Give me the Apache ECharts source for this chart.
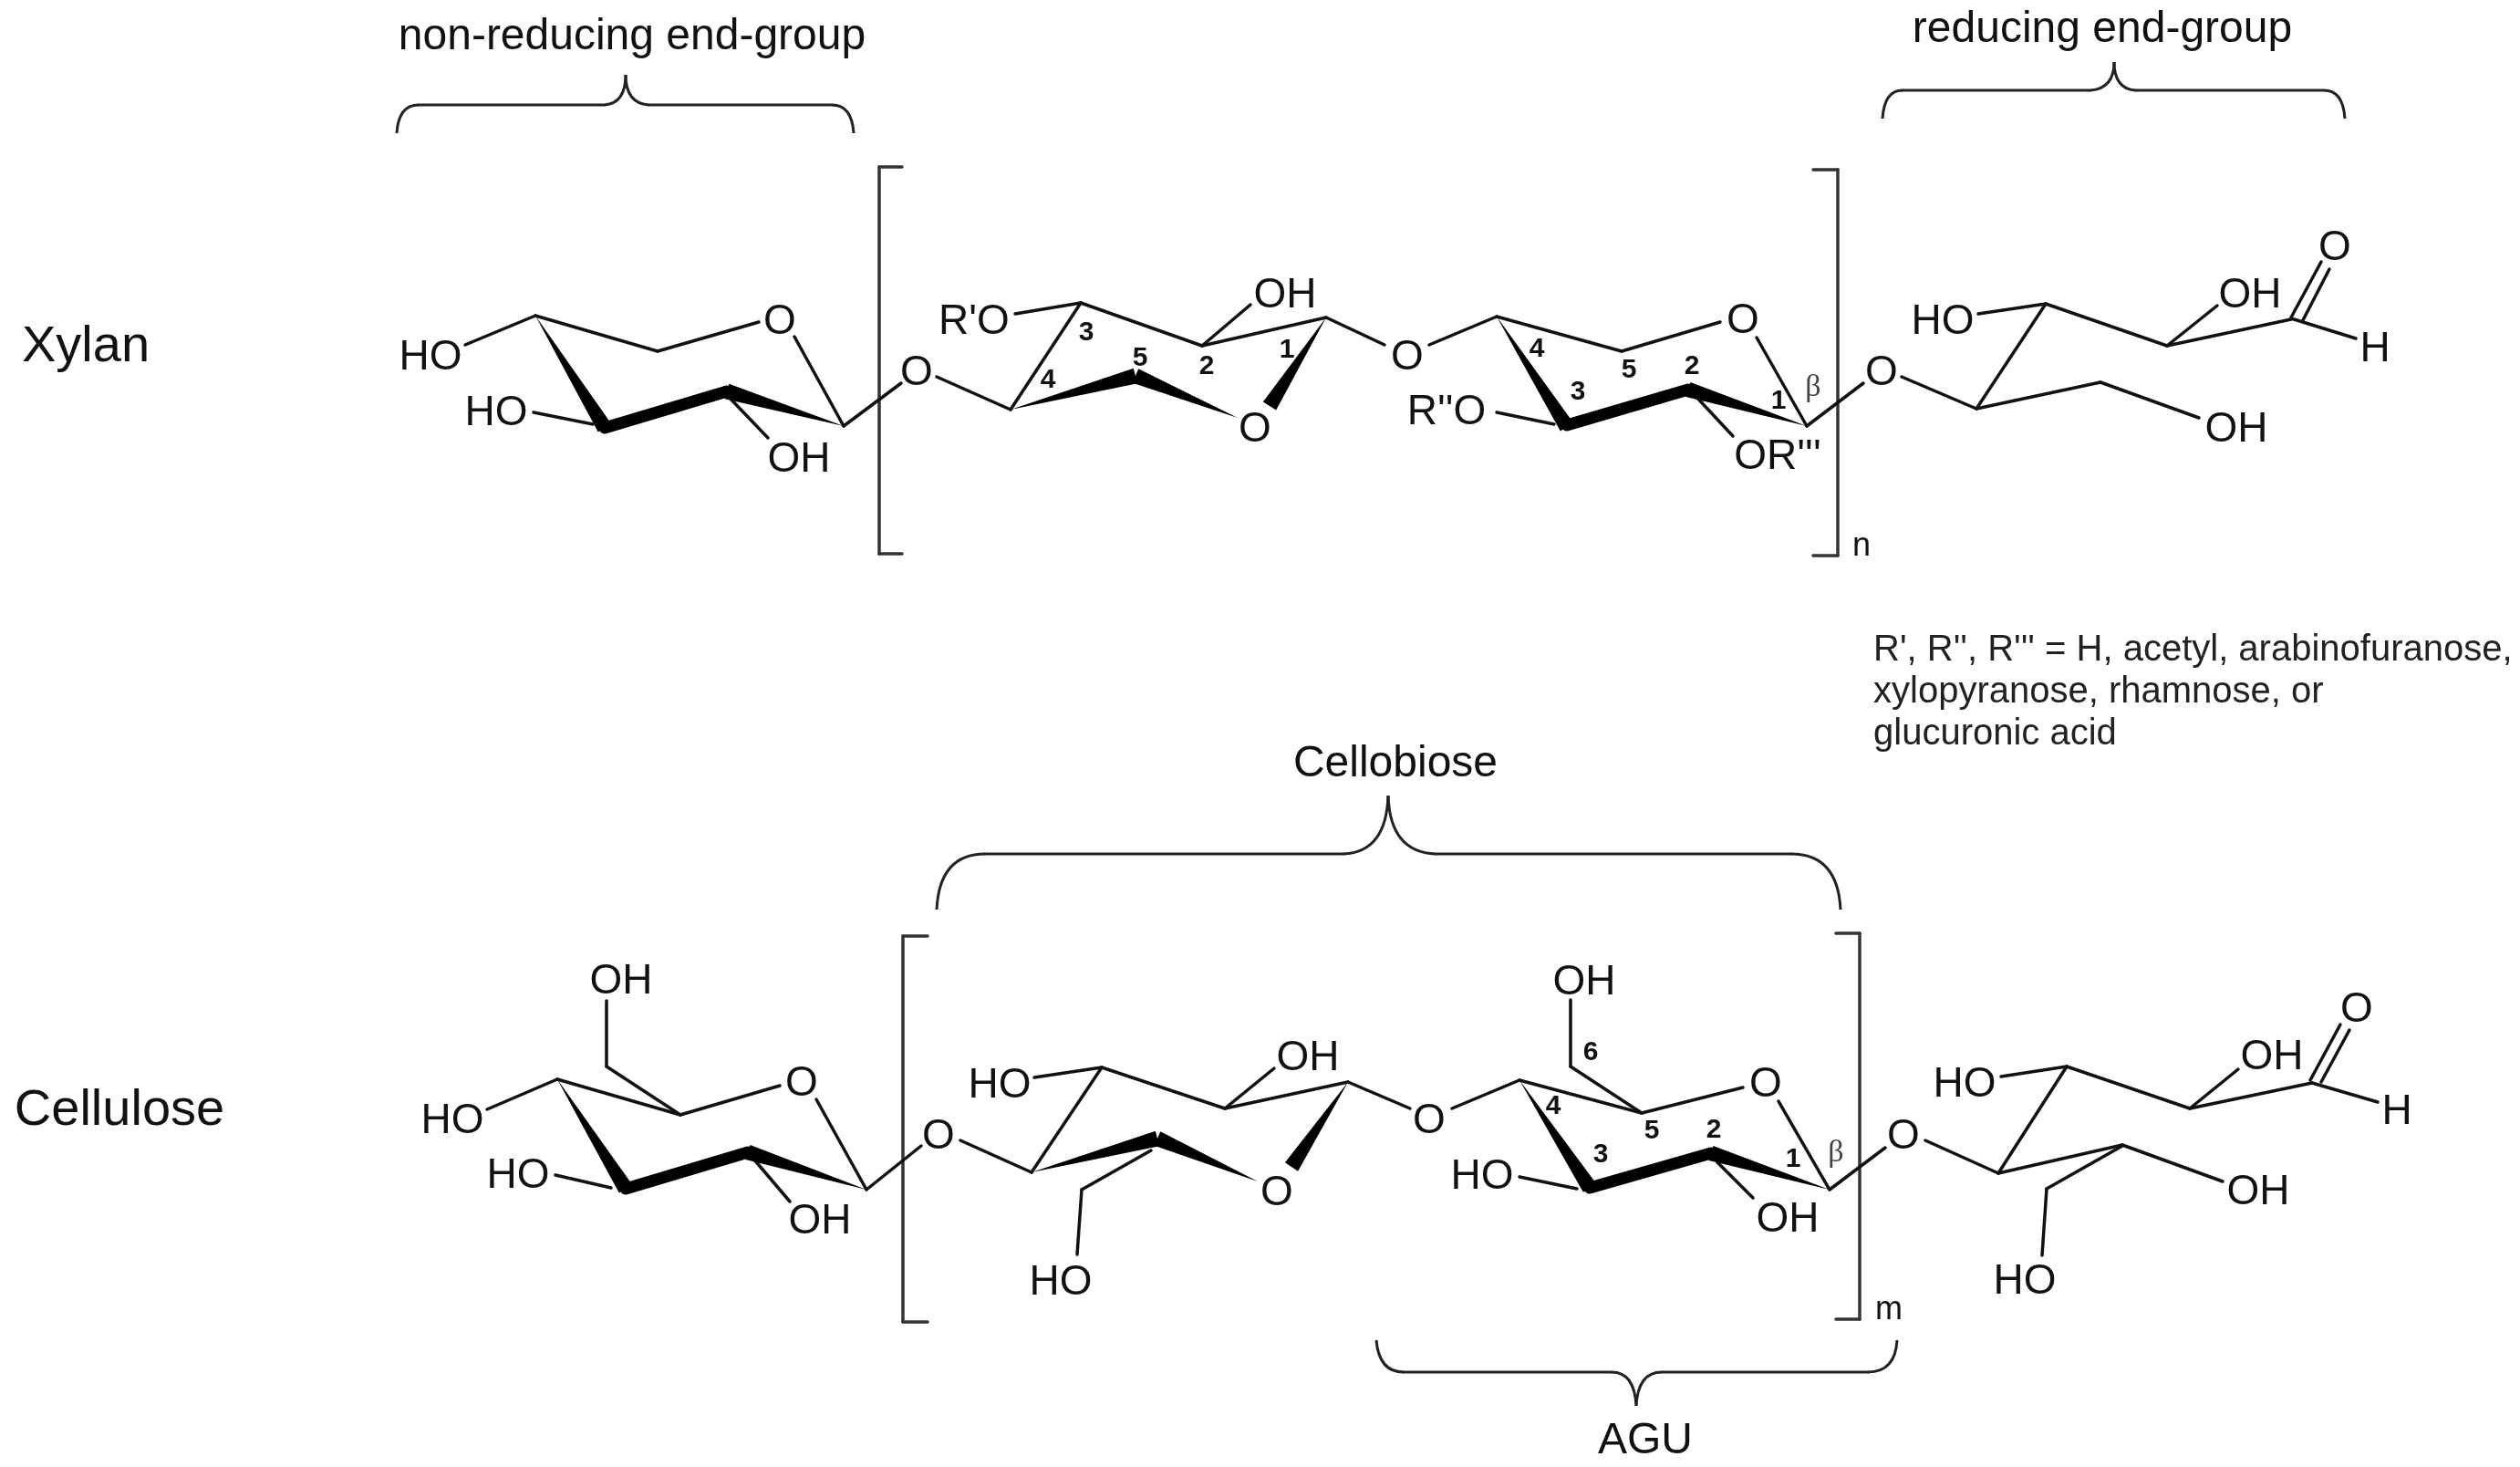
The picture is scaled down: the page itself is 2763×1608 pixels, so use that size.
<!DOCTYPE html>
<html>
<head>
<meta charset="utf-8">
<title>Xylan and cellulose</title>
<script src="https://cdn.jsdelivr.net/npm/echarts@6/dist/echarts.min.js"></script>
<style>
  html, body { margin: 0; padding: 0; background: #fff; }
  #container { width: 2763px; height: 1608px; }
</style>
</head>
<body>
<div id="container"></div>
<script>
// thin bonds: x1, y1, x2, y2
const xylanBonds = [
  [587, 346, 721, 385], [721, 385, 832, 353], [871, 369, 925, 467], [510, 378, 587, 346],
  [585, 452, 650, 465], [797, 433, 842, 480], [925, 467, 988, 420], [1027, 413, 1108, 449],
  [1108, 449, 1185, 332], [1113, 344, 1185, 332], [1185, 332, 1318, 379], [1371, 334, 1318, 379],
  [1318, 379, 1454, 348], [1454, 348, 1518, 378], [1567, 378, 1641, 347], [1641, 347, 1778, 385],
  [1778, 385, 1886, 353], [1926, 370, 1981, 467], [1641, 452, 1704, 465], [1858, 433, 1900, 478],
  [1981, 467, 2043, 420], [2085, 413, 2167, 448], [2167, 448, 2243, 333], [2169, 344, 2243, 333],
  [2243, 333, 2376, 379], [2431, 335, 2376, 379], [2376, 379, 2512, 350], [2512, 348, 2545, 287],
  [2525, 351, 2554, 295], [2512, 349, 2583, 371], [2167, 448, 2303, 419], [2303, 419, 2411, 458]
];
const celluloseBonds = [
  [665, 1097, 665, 1169], [665, 1169, 746, 1222], [611, 1183, 746, 1222], [746, 1222, 855, 1190],
  [895, 1205, 950, 1304], [534, 1216, 611, 1183], [609, 1288, 670, 1302], [826, 1270, 866, 1317],
  [950, 1304, 1010, 1256], [1053, 1250, 1131, 1285], [1131, 1285, 1208, 1170], [1134, 1181, 1208, 1170],
  [1208, 1170, 1343, 1215], [1397, 1171, 1343, 1215], [1343, 1215, 1478, 1186], [1262, 1261, 1186, 1304],
  [1186, 1304, 1181, 1375], [1478, 1186, 1546, 1215], [1592, 1215, 1666, 1184], [1666, 1184, 1800, 1220],
  [1800, 1220, 1911, 1192], [1950, 1207, 2006, 1304], [1800, 1220, 1722, 1169], [1722, 1169, 1722, 1096],
  [1666, 1290, 1729, 1303], [1883, 1274, 1922, 1313], [2006, 1304, 2067, 1258], [2111, 1250, 2191, 1286],
  [2191, 1286, 2266, 1169], [2194, 1180, 2266, 1169], [2266, 1169, 2401, 1215], [2454, 1172, 2401, 1215],
  [2401, 1215, 2535, 1187], [2533, 1184, 2566, 1123], [2545, 1186, 2576, 1129], [2535, 1187, 2607, 1208],
  [2191, 1286, 2327, 1255], [2327, 1255, 2437, 1295], [2327, 1256, 2244, 1303], [2244, 1303, 2239, 1376]
];
// bold ring edges
const thickBonds = [
  [663, 469, 797, 429], [1718, 466, 1851, 427], [686, 1303, 820, 1263], [1743, 1302, 1876, 1264]
];
// wedges: tip x, tip y, wide end x, wide end y
const wedges = [
  [587, 346, 663, 469], [925, 467, 797, 429], [1108, 449, 1245, 412], [1357, 458, 1245, 412],
  [1454, 348, 1392, 445], [1641, 347, 1718, 468], [1981, 467, 1851, 427],
  [611, 1183, 686, 1303], [950, 1304, 820, 1263], [1131, 1285, 1269, 1248], [1379, 1295, 1269, 1248],
  [1478, 1186, 1416, 1279], [1666, 1184, 1743, 1302], [2006, 1304, 1876, 1264]
];
const brackets = [
  [989, 183, 964, 183], [964, 183, 964, 607], [964, 607, 989, 607],
  [1988, 186, 2015, 186], [2015, 186, 2015, 609], [2015, 609, 1988, 609],
  [1017, 1026, 990, 1026], [990, 1026, 990, 1449], [990, 1449, 1017, 1449],
  [2013, 1023, 2039, 1023], [2039, 1023, 2039, 1446], [2039, 1446, 2013, 1446]
];
// brace straight runs and curves (x1, y1, cx, cy, x2, y2)
const braceRuns = [
  [459, 115, 663, 115], [711, 115, 912, 115], [2086, 99, 2292, 99], [2341, 99, 2548, 99],
  [1080, 936, 1473, 936], [1574, 936, 1964, 936], [1539, 1504, 1767, 1504], [1822, 1504, 2048, 1504]
];
const braceCurves = [
  [435, 146, 437, 115, 459, 115], [663, 115, 686, 113, 686, 82], [686, 82, 686, 113, 711, 115], [912, 115, 934, 115, 936, 146],
  [2064, 130, 2066, 99, 2086, 99], [2292, 99, 2318, 97, 2318, 68], [2318, 68, 2318, 97, 2341, 99], [2548, 99, 2569, 99, 2571, 130],
  [1027, 997, 1030, 936, 1080, 936], [1473, 936, 1520, 934, 1522, 872], [1522, 872, 1524, 934, 1574, 936], [1964, 936, 2015, 936, 2018, 997],
  [1509, 1469, 1512, 1504, 1539, 1504], [1767, 1504, 1792, 1504, 1794, 1541], [1794, 1541, 1796, 1504, 1822, 1504], [2048, 1504, 2078, 1504, 2080, 1469]
];
// text: x, y, string
const atomLabels = [
  [472, 388, 'HO'], [544, 449, 'HO'], [876, 500, 'OH'], [855, 349, 'O'], [1005, 405, 'O'],
  [1068, 349, "R'O"], [1409, 320, 'OH'], [1376, 467, 'O'], [1543, 388, 'O'], [1911, 348, 'O'],
  [1586, 448, "R''O"], [1949, 497, "OR'''"], [2063, 405, 'O'], [2130, 349, 'HO'], [2467, 320, 'OH'],
  [2560, 268, 'O'], [2604, 379, 'H'], [2452, 467, 'OH'],
  [681, 1072, 'OH'], [496, 1225, 'HO'], [568, 1285, 'HO'], [879, 1184, 'O'], [899, 1335, 'OH'],
  [1029, 1242, 'O'], [1096, 1186, 'HO'], [1434, 1156, 'OH'], [1400, 1304, 'O'], [1163, 1402, 'HO'],
  [1567, 1225, 'O'], [1936, 1185, 'O'], [1737, 1073, 'OH'], [1625, 1286, 'HO'], [1960, 1333, 'OH'],
  [2087, 1242, 'O'], [2154, 1185, 'HO'], [2491, 1155, 'OH'], [2584, 1103, 'O'], [2628, 1215, 'H'],
  [2476, 1303, 'OH'], [2220, 1401, 'HO']
];
const carbonNumbers = [
  [1191, 363, '3'], [1250, 391, '5'], [1323, 400, '2'], [1411, 382, '1'], [1149, 415, '4'],
  [1685, 381, '4'], [1786, 404, '5'], [1855, 400, '2'], [1730, 428, '3'], [1950, 438, '1'],
  [1744, 1152, '6'], [1703, 1211, '4'], [1811, 1238, '5'], [1879, 1237, '2'], [1755, 1264, '3'], [1966, 1269, '1']
];
const betaLabels = [[1988, 423, 'β'], [2013, 1262, 'β']];
const repeatLabels = [[2041, 597, 'n'], [2071, 1434, 'm']];
const polymerNames = [[94, 375, 'Xylan'], [131, 1212, 'Cellulose']];
const groupLabels = [
  [693, 37, 'non-reducing end-group'], [2305, 29, 'reducing end-group'],
  [1530, 834, 'Cellobiose'], [1804, 1576, 'AGU']
];
const noteLines = [
  [2054, 710, "R', R'', R''' = H, acetyl, arabinofuranose,"],
  [2054, 756, 'xylopyranose, rhamnose, or'],
  [2054, 802, 'glucuronic acid']
];

const INK = '#111111';

function segmentSeries(data, color, width) {
  return {
    type: 'custom',
    silent: true,
    clip: false,
    data: data,
    renderItem: (params, api) => {
      const a = api.coord([api.value(0), api.value(1)]);
      const b = api.coord([api.value(2), api.value(3)]);
      return {
        type: 'line',
        shape: { x1: a[0], y1: a[1], x2: b[0], y2: b[1] },
        style: { stroke: color, lineWidth: width, lineCap: 'round', fill: null }
      };
    }
  };
}

function wedgeSeries(data, wideEnd) {
  return {
    type: 'custom',
    silent: true,
    clip: false,
    data: data,
    renderItem: (params, api) => {
      const tip = api.coord([api.value(0), api.value(1)]);
      const end = api.coord([api.value(2), api.value(3)]);
      const dx = end[0] - tip[0];
      const dy = end[1] - tip[1];
      const len = Math.sqrt(dx * dx + dy * dy);
      const nx = -dy / len * wideEnd / 2;
      const ny = dx / len * wideEnd / 2;
      return {
        type: 'polygon',
        shape: { points: [tip, [end[0] + nx, end[1] + ny], [end[0] - nx, end[1] - ny]] },
        style: { fill: '#000' }
      };
    }
  };
}

function curveSeries(data, color, width) {
  return {
    type: 'custom',
    silent: true,
    clip: false,
    data: data,
    renderItem: (params, api) => {
      const a = api.coord([api.value(0), api.value(1)]);
      const c = api.coord([api.value(2), api.value(3)]);
      const b = api.coord([api.value(4), api.value(5)]);
      return {
        type: 'bezierCurve',
        shape: { x1: a[0], y1: a[1], cpx1: c[0], cpy1: c[1], x2: b[0], y2: b[1] },
        style: { stroke: color, lineWidth: width, fill: null }
      };
    }
  };
}

function textSeries(data, fontSize, opts) {
  const o = opts || {};
  return {
    type: 'scatter',
    silent: true,
    symbolSize: 0,
    clip: false,
    itemStyle: { opacity: 1 },
    data: data,
    label: {
      show: true,
      position: 'inside',
      align: o.align || 'center',
      verticalAlign: 'middle',
      offset: [0, o.dy === undefined ? 4 : o.dy],
      opacity: 1,
      formatter: p => p.value[2],
      fontFamily: o.family || 'Arial, "Liberation Sans", sans-serif',
      fontWeight: o.weight || 'normal',
      fontSize: fontSize,
      color: o.color || '#111111'
    }
  };
}

const chart = echarts.init(document.getElementById('container'), null, { renderer: 'canvas' });
chart.setOption({
  animation: false,
  backgroundColor: '#ffffff',
  grid: { left: 0, right: 0, top: 0, bottom: 0 },
  xAxis: { type: 'value', min: 0, max: 2763, show: false },
  yAxis: { type: 'value', min: 0, max: 1608, inverse: true, show: false },
  series: [
    segmentSeries(brackets, '#333333', 3.5),
    segmentSeries(braceRuns, '#222222', 3),
    curveSeries(braceCurves, '#222222', 3),
    segmentSeries(xylanBonds, INK, 3.5),
    segmentSeries(celluloseBonds, INK, 3.5),
    segmentSeries(thickBonds, '#000', 13),
    wedgeSeries(wedges, 17),
    textSeries(atomLabels, 46),
    textSeries(carbonNumbers, 30, { weight: 'bold', dy: 2 }),
    textSeries(betaLabels, 34, { family: '"Liberation Serif", serif', color: '#444444', dy: 2 }),
    textSeries(repeatLabels, 36, { dy: 2 }),
    textSeries(polymerNames, 56, { dy: 6 }),
    textSeries(groupLabels, 48),
    textSeries(noteLines, 40, { align: 'left', dy: 3, color: '#222222' })
  ]
});
window.addEventListener('resize', () => chart.resize());
</script>
</body>
</html>
